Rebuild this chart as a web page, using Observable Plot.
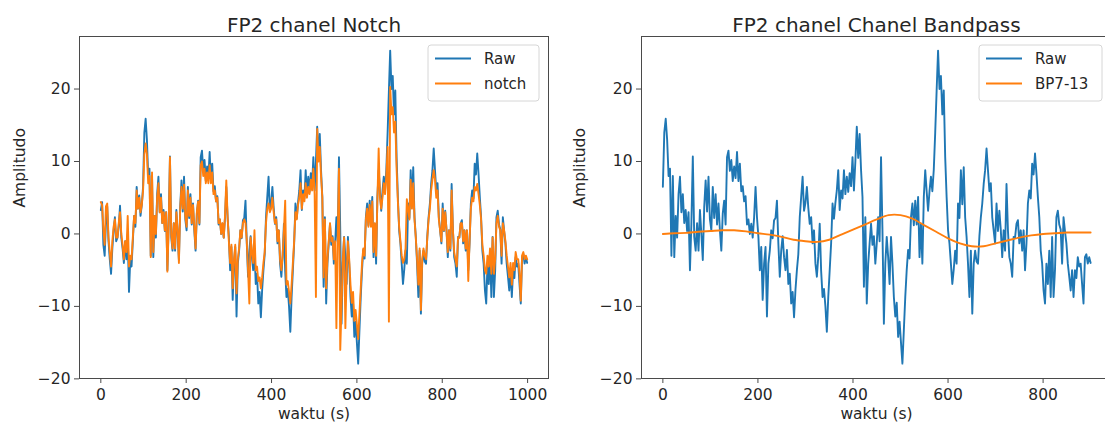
<!DOCTYPE html>
<html>
<head>
<meta charset="utf-8">
<script src="https://cdn.jsdelivr.net/npm/d3@7"></script>
<script src="https://cdn.jsdelivr.net/npm/@observablehq/plot@0.6"></script>
<style>
  html, body { margin: 0; padding: 0; background: #fff; }
  body { width: 1105px; height: 428px; overflow: hidden; position: relative; font-family: "DejaVu Sans", sans-serif; }
  .panel { position: absolute; top: 0; width: 560px; height: 428px; }
  .panel svg { overflow: visible; max-width: none !important; }
</style>
</head>
<body>
<div id="left" class="panel" style="left:0px"></div>
<div id="right" class="panel" style="left:560px"></div>
<script>
// ---------------- data ----------------
const sampleStep = 3;            // samples 0,3,6,...,999
const bandpassStart = 99;        // right panel shows raw from this sample on

const rawValues = [
  3.3, 4.4, -1.5, -3.0, 1.5, 3.8, -1.0, -3.5, -5.5, -2.0,
  0.5, 2.3, -1.0, -0.5, 1.0, 3.9, -0.5, -2.0, -4.0, -1.0,
  -3.5, 0.0, -8.0, -3.5, -4.5, -1.0, 2.5, 1.0, 6.5, 3.5,
  5.3, 2.5, 4.0, 6.5, 14.0, 15.9, 13.0, 8.0, 9.0, -3.0,
  8.0, -3.2, 2.5, -0.5, 5.5, 7.9, 3.0, 5.5, 1.5, 3.3,
  0.4, 3.0, -5.0, 1.4, 10.7, -0.4, -2.3, 1.5, -2.3, 3.3,
  0.0, -3.6, 3.7, 7.4, 3.1, 7.9, 2.0, 0.5, 6.5, 2.2,
  5.5, 1.3, 4.2, 0.5, -2.3, 2.8, 4.6, 1.3, 10.6, 11.5,
  8.7, 10.2, 7.3, 9.3, 7.7, 11.3, 7.3, 9.7, 5.9, 6.6,
  4.5, 5.2, 1.3, 2.0, 0.0, 1.4, -0.5, 2.3, 6.5, 2.3,
  -0.4, -5.0, -1.8, -9.1, -4.1, -1.8, -11.4, -4.1, -2.3, 0.5,
  -0.6, 1.9, 2.2, 4.6, -1.3, -5.9, -2.3, -0.3, -3.2, -5.0,
  -2.2, -6.9, -5.5, -9.6, -8.0, -11.5, -7.7, -5.0, -2.8, 2.3,
  5.1, 7.9, 3.2, 4.3, 6.5, 3.6, 1.4, 2.3, -1.3, 0.5,
  -4.1, -5.9, -3.1, 1.4, -5.1, -8.7, -7.6, -10.0, -13.5, -8.7,
  -5.0, -1.3, 4.2, 2.1, 4.3, 6.0, 8.8, 3.3, 6.0, 4.9,
  8.8, 5.5, 7.9, 5.8, 8.4, 6.6, 10.6, 6.0, 10.0, 14.8,
  10.5, 13.8, 8.8, 5.1, -7.3, 2.3, -9.6, -4.1, -1.3, 1.4,
  -1.5, -0.3, -4.1, -1.3, 2.3, -1.0, 10.6, 0.5, -12.4, -4.1,
  -0.4, -3.2, -6.9, -0.4, -4.1, -8.7, -11.4, -9.5, -14.2, -12.1,
  -15.0, -17.9, -13.3, -8.7, -5.0, -2.2, -3.4, 2.3, 4.2, 1.2,
  4.6, 1.3, 5.1, -3.2, 1.4, -4.1, 5.1, 8.8, 5.9, 3.2,
  5.9, 7.9, 5.9, 8.9, 14.0, 19.8, 25.3, 20.0, 21.8, 16.5,
  19.8, 10.6, 5.1, 0.5, -1.3, -4.1, -6.9, -4.9, -2.3, -4.1,
  4.2, 2.2, 8.8, 4.1, 9.2, 2.3, -0.4, -4.1, -8.7, -2.3,
  -11.0, -4.1, -2.3, -3.8, -4.1, -0.3, 2.3, 4.2, 6.9, 8.8,
  11.8, 8.8, 5.9, 7.0, 2.3, 0.5, -1.3, 4.2, 0.4, 3.2,
  0.5, -3.2, 0.5, -2.3, 6.9, 0.5, -3.2, -4.1, -5.9, -0.4,
  -0.5, 1.4, 1.9, -1.3, 0.5, -2.3, 0.5, -5.0, -1.3, 4.2,
  6.0, 4.9, 9.7, 8.2, 11.1, 8.3, 5.1, 2.3, -2.3, -4.1,
  -7.8, -9.6, -4.1, -6.9, -2.3, -8.7, -0.4, -8.7, -5.0, 2.3,
  3.2, 1.3, 0.6, -4.1, 2.3, 0.4, -1.3, -4.1, -5.9, -7.8,
  -5.0, -8.7, -5.0, -6.1, -3.2, -4.5, -4.1, -6.9, -9.6, -3.2,
  -2.8, -4.1, -3.2, -4.0
];

const notchValues = [
  4.4, 4.0, 0.5, -1.5, 3.8, 4.2, -0.5, -2.5, -4.5, -1.0,
  1.0, 2.0, -0.5, -0.5, 1.5, 3.0, 0.0, -1.5, -3.5, -1.0,
  -2.5, 2.5, -4.5, -3.0, -3.5, -0.5, 2.5, 1.5, 6.0, 3.5,
  5.0, 3.0, 4.0, 6.0, 11.0, 12.5, 11.0, 7.0, 8.0, -3.2,
  8.5, -2.5, 2.5, 0.0, 5.0, 7.0, 3.0, 5.0, 1.5, 3.0,
  0.5, 3.0, -5.2, 1.0, 10.6, 0.0, -2.0, 1.5, -2.0, 3.0,
  0.5, -4.0, 3.5, 6.5, 3.5, 6.8, 2.5, 1.0, 6.0, 2.5,
  5.0, 1.5, 4.0, 1.0, -2.0, 3.0, 4.5, 1.5, 9.5, 10.0,
  8.0, 9.0, 7.0, 8.5, 7.0, 9.5, 7.0, 8.5, 5.5, 6.0,
  4.5, 5.0, 1.5, 2.0, 0.0, 1.5, -0.5, 2.5, 7.4, 2.5,
  -1.0, -4.0, -1.5, -7.5, -3.5, -1.5, -8.2, -3.5, -2.0, 0.5,
  -0.5, 1.5, 2.0, 1.5, -1.0, -5.0, -9.6, -0.5, -2.5, -4.0,
  0.5, -5.0, -4.5, -6.5, -6.0, -7.5, -6.0, -4.0, -2.5, 1.5,
  3.5, 4.2, 3.0, 3.5, 5.0, 3.0, 1.5, 2.0, -1.0, 0.5,
  -3.5, -5.0, -3.0, 0.5, 4.6, -7.0, -6.5, -8.0, -9.6, -7.0,
  -4.0, -1.0, 3.0, 2.0, 4.0, 5.0, 7.0, 3.5, 5.5, 4.5,
  7.0, 5.0, 6.5, 5.5, 7.5, 6.0, 9.0, 5.5, -8.7, 14.5,
  10.0, 12.0, 8.0, 5.0, -6.0, 2.0, -7.5, -3.5, -1.0, 1.5,
  -1.0, -0.5, -3.5, -1.0, -13.0, -0.5, 9.0, -16.0, -10.0, -3.5,
  -0.5, -13.0, -5.5, -1.0, -3.5, -7.0, -9.5, -8.0, -12.0, -10.5,
  -12.5, -14.5, -11.0, -7.5, -4.0, -2.0, -3.0, 2.0, 3.5, 1.0,
  4.0, 1.0, 4.5, -2.5, 1.5, -3.0, 4.5, 11.8, 5.0, 3.5,
  5.0, 7.0, 5.5, 8.0, 12.0, -12.1, 20.3, 16.5, 17.5, 14.0,
  15.5, 9.0, 4.5, 1.0, -1.0, -3.0, -4.0, -3.5, -2.0, 4.8,
  3.5, 2.0, 7.5, 3.5, 7.0, 2.0, -0.5, -3.5, -7.0, -2.0,
  -10.5, -3.5, -2.0, -3.0, -3.5, -0.5, 2.0, 3.5, 6.0, 7.5,
  8.8, 7.5, 5.0, 6.0, 2.0, 0.5, -1.0, 3.5, 0.5, 3.0,
  0.5, -2.5, 0.5, -2.0, 6.0, 0.5, -2.5, -3.5, -4.5, -0.5,
  -0.5, 1.5, 1.5, -1.0, 0.5, -2.0, 0.5, -6.5, -1.0, 3.5,
  5.0, 4.5, 6.5, 6.0, 6.9, 5.5, 4.0, 2.0, -1.5, -3.0,
  -5.0, -5.5, -3.0, -4.5, -2.0, -5.5, -0.5, -5.5, -3.5, 1.5,
  2.5, 1.0, 0.5, -3.0, 1.5, 0.5, -1.0, -3.0, -4.5, -6.0,
  -4.0, -7.0, -4.0, -5.0, -2.5, -3.5, -3.5, -5.5, -9.2, -3.0,
  -2.5, -3.5, -3.0, -3.5
];

const bandpassTime = [0, 25, 50, 75, 100, 125, 150, 175, 200, 225, 250, 275, 300, 325, 350, 375,
  400, 425, 450, 475, 500, 525, 550, 575, 600, 625, 650, 675, 700, 725, 750, 775, 800, 825, 850, 875, 900];
const bandpassValues = [0.0, 0.1, 0.15, 0.3, 0.4, 0.5, 0.5, 0.35, 0.1, -0.1, -0.4, -0.8, -1.0, -1.1, -0.8, -0.1,
  0.6, 1.3, 2.0, 2.6, 2.6, 2.1, 1.2, 0.3, -0.6, -1.3, -1.7, -1.7, -1.3, -0.9, -0.5, -0.2, 0.0, 0.1, 0.2, 0.2, 0.2];

const leftXTicks = [0, 200, 400, 600, 800, 1000];
const rightXTicks = [0, 200, 400, 600, 800];
const yTicks = [-20, -10, 0, 10, 20];

const titles = ["FP2 chanel Notch", "FP2 chanel Chanel Bandpass"];
const xLabel = "waktu (s)";
const yLabel = "Amplitudo";
const leftLegend = ["Raw", "notch"];
const rightLegend = ["Raw", "BP7-13"];

// ---------------- build tables ----------------
const rawTable = rawValues.map((v, i) => ({t: i * sampleStep, v}));
const notchTable = notchValues.map((v, i) => ({t: i * sampleStep, v}));
const rawShifted = rawTable.filter(d => d.t >= bandpassStart).map(d => ({t: d.t - bandpassStart, v: d.v}));
const bpTable = bandpassTime.map((t, i) => ({t, v: bandpassValues[i]}));

const BLUE = "#1f77b4", ORANGE = "#ff7f0e";
const TEXT = "#262626", SPINE = "#4a4a4a";
const FONT = "DejaVu Sans, sans-serif";
const fmt = d => (d < 0 ? "\u2212" + Math.abs(d) : String(d));

function panel({series, xDomain, xTicks, title, legend, width, marginLeft, marginRight}) {
  const H = 428;
  const chart = Plot.plot({
    width, height: H,
    marginLeft, marginRight, marginTop: 36, marginBottom: 50,
    style: {fontFamily: FONT, fontSize: "15px", color: TEXT, background: "transparent", overflow: "visible"},
    x: {domain: xDomain, label: null},
    y: {domain: [-19.95, 27.25], label: null},
    marks: [
      ...series.map(s => Plot.line(s.data, {x: "t", y: "v", stroke: s.color, strokeWidth: 1.9, curve: s.curve || "linear"})),
      Plot.frame({stroke: SPINE, strokeWidth: 1}),
      Plot.axisX({ticks: xTicks, tickFormat: fmt, tickSize: 5, tickPadding: 5, stroke: SPINE, fill: TEXT, fontSize: 15.5, label: null}),
      Plot.axisY({ticks: yTicks, tickFormat: fmt, tickSize: 5, tickPadding: 4, stroke: SPINE, fill: TEXT, fontSize: 15.5, label: null}),
      Plot.text([title], {frameAnchor: "top", dy: -19, fontSize: 20, fill: TEXT, text: d => d}),
      Plot.text([xLabel], {frameAnchor: "bottom", dy: 40, fontSize: 15.5, fill: TEXT, text: d => d}),
      Plot.text([yLabel], {frameAnchor: "left", dx: -(marginLeft - 20), rotate: -90, fontSize: 15.5, fill: TEXT, text: d => d})
    ]
  });
  // legend (upper right, matplotlib style)
  const svg = d3.select(chart);
  const frameRight = width - marginRight;
  const boxW = legend.boxW, boxR = frameRight - 9, boxL = boxR - boxW;
  const g = svg.append("g").attr("font-family", FONT).attr("font-size", 15).attr("text-anchor", "start");
  g.append("rect").attr("x", boxL).attr("y", 45).attr("width", boxW).attr("height", 56)
    .attr("rx", 3).attr("fill", "#fff").attr("fill-opacity", 0.85).attr("stroke", "#d6d6d6").attr("stroke-width", 1);
  legend.items.forEach((it, i) => {
    const y = 58.5 + i * 25;
    g.append("line").attr("x1", boxL + 7).attr("x2", boxL + 43).attr("y1", y).attr("y2", y)
      .attr("stroke", it.color).attr("stroke-width", 2);
    g.append("text").attr("x", boxL + 56).attr("y", y).attr("dy", "0.36em").attr("fill", TEXT)
      .attr("text-anchor", "start").text(it.label);
  });
  return chart;
}

document.getElementById("left").appendChild(panel({
  series: [{data: rawTable, color: BLUE}, {data: notchTable, color: ORANGE}],
  xDomain: [-49.95, 1048.95], xTicks: leftXTicks, title: titles[0],
  legend: {boxW: 111, items: [{label: leftLegend[0], color: BLUE}, {label: leftLegend[1], color: ORANGE}]},
  width: 560, marginLeft: 79, marginRight: 12
}));

document.getElementById("right").appendChild(panel({
  series: [{data: rawShifted, color: BLUE}, {data: bpTable, color: ORANGE, curve: "catmull-rom"}],
  xDomain: [-44.95, 943.9], xTicks: rightXTicks, title: titles[1],
  legend: {boxW: 123, items: [{label: rightLegend[0], color: BLUE}, {label: rightLegend[1], color: ORANGE}]},
  width: 560, marginLeft: 81, marginRight: 9
}));
</script>
</body>
</html>
